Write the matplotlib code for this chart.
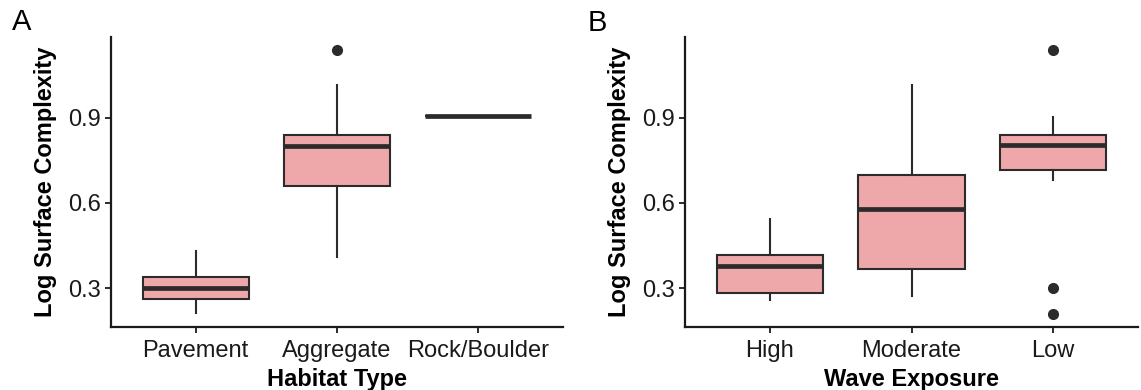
import matplotlib
matplotlib.use('Agg')
import matplotlib.pyplot as plt

plt.rcParams['font.family'] = ['Liberation Sans', 'DejaVu Sans']

# panel A: habitat type
habitat = ['Pavement', 'Aggregate', 'Rock/Boulder']
hab_low = [0.211, 0.410, 0.908]
hab_q1 = [0.261, 0.661, 0.908]
hab_med = [0.300, 0.800, 0.908]
hab_q3 = [0.338, 0.839, 0.908]
hab_high = [0.431, 1.016, 0.908]
hab_out = [[], [1.139], []]

# panel B: wave exposure
wave = ['High', 'Moderate', 'Low']
wave_low = [0.258, 0.272, 0.682]
wave_q1 = [0.284, 0.366, 0.715]
wave_med = [0.378, 0.579, 0.805]
wave_q3 = [0.415, 0.698, 0.840]
wave_high = [0.545, 1.016, 0.902]
wave_out = [[], [], [1.139, 0.300, 0.209]]

fill = '#EFA8AA'
edge = '#2b2b2b'


def make_stats(labels, lo, q1, med, q3, hi, out):
    stats = []
    for i in range(len(labels)):
        stats.append(dict(label=labels[i], whislo=lo[i], q1=q1[i], med=med[i],
                          q3=q3[i], whishi=hi[i], fliers=out[i]))
    return stats


def draw_panel(ax, stats, xlabel):
    ax.bxp(stats, positions=range(1, len(stats) + 1), widths=0.75,
           patch_artist=True, showcaps=False,
           boxprops=dict(facecolor=fill, edgecolor=edge, linewidth=1.5),
           medianprops=dict(color=edge, linewidth=3.4, solid_capstyle='butt'),
           whiskerprops=dict(color=edge, linewidth=1.5),
           flierprops=dict(marker='o', markerfacecolor=edge, markeredgecolor=edge,
                           markersize=7))
    ax.set_xlim(0.4, len(stats) + 0.6)
    ax.set_ylim(0.1625, 1.1855)
    ax.set_yticks([0.3, 0.6, 0.9])
    ax.set_yticklabels(['0.3', '0.6', '0.9'])
    for s in ['top', 'right']:
        ax.spines[s].set_visible(False)
    for s in ['left', 'bottom']:
        ax.spines[s].set_linewidth(1.6)
        ax.spines[s].set_color('#1a1a1a')
    ax.tick_params(axis='both', labelsize=17, length=4, width=1.3,
                   colors='#1a1a1a')
    ax.tick_params(axis='x', pad=5)
    ax.tick_params(axis='y', pad=3)
    ax.set_xlabel(xlabel, fontsize=17, fontweight='bold', labelpad=5)
    ax.set_ylabel('Log Surface Complexity', fontsize=17, fontweight='bold', labelpad=8)


fig = plt.figure(figsize=(11.41, 3.9), dpi=100)
axA = fig.add_axes([0.0973, 0.1615, 0.396, 0.7436])
axB = fig.add_axes([0.6004, 0.1615, 0.397, 0.7436])

draw_panel(axA, make_stats(habitat, hab_low, hab_q1, hab_med, hab_q3, hab_high, hab_out),
           'Habitat Type')
draw_panel(axB, make_stats(wave, wave_low, wave_q1, wave_med, wave_q3, wave_high, wave_out),
           'Wave Exposure')

fig.text(22 / 1141, 1 - 22 / 390, 'A', fontsize=21, ha='center', va='center')
fig.text(597 / 1141, 1 - 23 / 390, 'B', fontsize=21, ha='center', va='center')

fig.savefig('out.png', dpi=100)
